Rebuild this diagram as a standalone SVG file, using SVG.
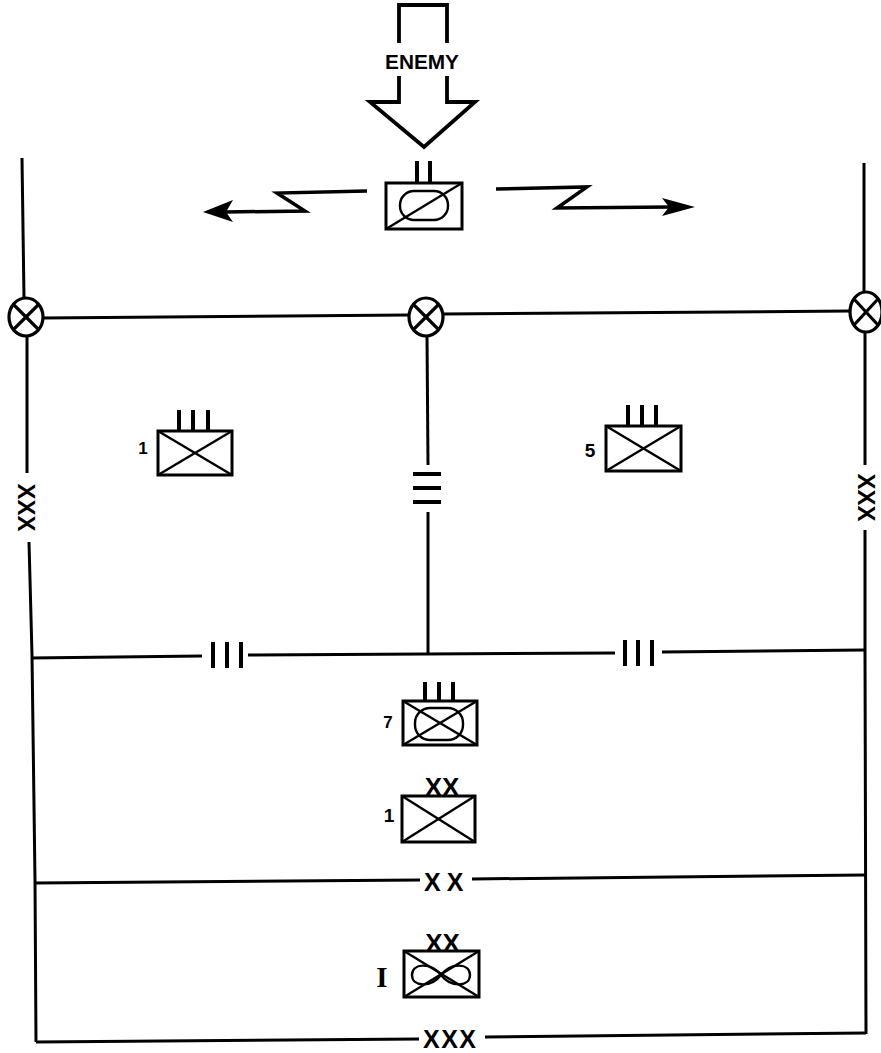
<svg xmlns="http://www.w3.org/2000/svg" width="881" height="1053" viewBox="0 0 881 1053">
<style>
.ln{fill:none;stroke:#000;stroke-width:3;stroke-linecap:butt}
.bx{fill:#fff;stroke:#000;stroke-width:3}
.dg{fill:none;stroke:#000;stroke-width:2.4}
.bar{stroke:#000;stroke-width:4}
.t{font-family:"Liberation Sans",Arial,Helvetica,sans-serif;font-weight:bold;fill:#000}
.ts{font-family:"Liberation Serif","Times New Roman",serif;font-weight:bold;fill:#000}
</style>
<defs>
<g id="cp">
<ellipse cx="0" cy="0" rx="17" ry="19" fill="#fff" stroke="#000" stroke-width="3.2"/>
<line x1="-12.5" y1="-12.5" x2="12.5" y2="12.5" stroke="#000" stroke-width="3.2"/>
<line x1="-12.5" y1="12.5" x2="12.5" y2="-12.5" stroke="#000" stroke-width="3.2"/>
</g>
</defs>
<rect width="881" height="1053" fill="#fff"/>

<g id="connectors">
<!-- left boundary -->
<polyline class="ln" points="22,158 24,298"/>
<polyline class="ln" points="27,336 27,473"/>
<polyline class="ln" points="29,542 32,655 35,880 36,1042"/>
<!-- right boundary -->
<polyline class="ln" points="864,163 864,292"/>
<polyline class="ln" points="865,332 865,465"/>
<polyline class="ln" points="865,530 865,650 866,1034"/>
<!-- top boundary line between contact points -->
<line class="ln" x1="43" y1="318" x2="409" y2="315"/>
<line class="ln" x1="443" y1="314" x2="850" y2="311"/>
<!-- middle regimental boundary -->
<line class="ln" x1="427" y1="336" x2="428" y2="465"/>
<line class="ln" x1="428" y1="512" x2="428" y2="655"/>
<line class="bar" x1="413" y1="474" x2="441" y2="474"/>
<line class="bar" x1="413" y1="488" x2="441" y2="488"/>
<line class="bar" x1="413" y1="502" x2="441" y2="502"/>
<!-- III line -->
<line class="ln" x1="31" y1="658" x2="202" y2="656"/>
<line class="ln" x1="248" y1="655" x2="615" y2="653"/>
<line class="ln" x1="662" y1="652" x2="864" y2="650"/>
<line class="bar" x1="213" y1="642" x2="213" y2="668" stroke-width="5"/>
<line class="bar" x1="227" y1="642" x2="227" y2="668" stroke-width="5"/>
<line class="bar" x1="241" y1="642" x2="241" y2="668" stroke-width="5"/>
<line class="bar" x1="625" y1="640" x2="625" y2="666" stroke-width="5"/>
<line class="bar" x1="638" y1="640" x2="638" y2="666" stroke-width="5"/>
<line class="bar" x1="652" y1="640" x2="652" y2="666" stroke-width="5"/>
<!-- XX line -->
<line class="ln" x1="35" y1="883" x2="420" y2="880"/>
<line class="ln" x1="472" y1="879" x2="865" y2="875"/>
<text class="t" x="424" y="891" font-size="25" letter-spacing="6">XX</text>
<!-- XXX line -->
<line class="ln" x1="36" y1="1042" x2="419" y2="1039"/>
<line class="ln" x1="485" y1="1037" x2="866" y2="1033"/>
<text class="t" x="423" y="1048" font-size="25" letter-spacing="1.5">XXX</text>
<!-- vertical XXX labels -->
<text class="t" font-size="24" text-anchor="middle" transform="translate(27,507.5) rotate(90)" y="8.6">XXX</text>
<text class="t" font-size="24" text-anchor="middle" transform="translate(867,497.5) rotate(90)" y="8.6">XXX</text>
</g>

<g id="contact-points">
<use href="#cp" x="26" y="317"/>
<use href="#cp" x="426" y="317"/>
<g transform="translate(866,312)">
<ellipse cx="0" cy="0" rx="16" ry="20" fill="#fff" stroke="#000" stroke-width="3.2"/>
<line x1="-12" y1="-13" x2="12" y2="13" stroke="#000" stroke-width="3.2"/>
<line x1="-12" y1="13" x2="12" y2="-13" stroke="#000" stroke-width="3.2"/>
</g>
</g>

<g id="enemy-arrow">
<polyline fill="none" stroke="#000" stroke-width="3.8" stroke-linejoin="miter" points="399,43 399,5 447,5 447,43"/>
<polyline fill="none" stroke="#000" stroke-width="3.8" stroke-linejoin="miter" points="399,76 399,102 370,102 424,147 475,102 447,102 447,76"/>
<text class="t" x="422" y="69" font-size="20" text-anchor="middle" textLength="74" lengthAdjust="spacingAndGlyphs">ENEMY</text>
</g>

<g id="cavalry-squadron">
<rect class="bx" x="386" y="183" width="76" height="46"/>
<rect x="400" y="191" width="48" height="29" rx="14" ry="14" fill="none" stroke="#000" stroke-width="2.4"/>
<line class="dg" x1="386" y1="229" x2="462" y2="183"/>
<line class="bar" x1="417" y1="161" x2="417" y2="183" stroke-width="3.5"/>
<line class="bar" x1="430" y1="161" x2="430" y2="183" stroke-width="3.5"/>
</g>

<g id="screen-arrows">
<polyline fill="none" stroke="#000" stroke-width="3.5" points="367,191 277,193 305,211 225,212"/>
<polygon points="203,212 233,200 226,212 233,222" fill="#000"/>
<polyline fill="none" stroke="#000" stroke-width="3.5" points="496,189 587,187 557,208 672,207"/>
<polygon points="695,207 662,198 669,207 662,216" fill="#000"/>
</g>

<g id="unit-1-regiment">
<rect class="bx" x="158" y="431" width="74" height="44"/>
<line class="dg" x1="158" y1="431" x2="232" y2="475"/>
<line class="dg" x1="158" y1="475" x2="232" y2="431"/>
<line class="bar" x1="179" y1="410" x2="179" y2="431"/>
<line class="bar" x1="193" y1="410" x2="193" y2="431"/>
<line class="bar" x1="208" y1="410" x2="208" y2="431"/>
<text class="t" x="143" y="454" font-size="17" text-anchor="middle">1</text>
</g>

<g id="unit-5-regiment">
<rect class="bx" x="606" y="426" width="75" height="45"/>
<line class="dg" x1="606" y1="426" x2="681" y2="471"/>
<line class="dg" x1="606" y1="471" x2="681" y2="426"/>
<line class="bar" x1="628" y1="405" x2="628" y2="426"/>
<line class="bar" x1="642" y1="405" x2="642" y2="426"/>
<line class="bar" x1="656" y1="405" x2="656" y2="426"/>
<text class="t" x="590" y="457" font-size="19" text-anchor="middle">5</text>
</g>

<g id="unit-7-regiment">
<rect class="bx" x="403" y="701" width="74" height="44"/>
<rect x="415" y="708" width="48" height="32" rx="15" ry="15" fill="none" stroke="#000" stroke-width="2.4"/>
<line class="dg" x1="403" y1="701" x2="477" y2="745"/>
<line class="dg" x1="403" y1="745" x2="477" y2="701"/>
<line class="bar" x1="425" y1="682" x2="425" y2="701"/>
<line class="bar" x1="439" y1="682" x2="439" y2="701"/>
<line class="bar" x1="453" y1="682" x2="453" y2="701"/>
<text class="t" x="388" y="728" font-size="17" text-anchor="middle">7</text>
</g>

<g id="unit-1-division">
<rect class="bx" x="402" y="796" width="73" height="46"/>
<line class="dg" x1="402" y1="796" x2="475" y2="842"/>
<line class="dg" x1="402" y1="842" x2="475" y2="796"/>
<text class="t" x="442" y="796" font-size="26" text-anchor="middle">XX</text>
<text class="t" x="389" y="822" font-size="19" text-anchor="middle">1</text>
</g>

<g id="unit-I-corps">
<rect class="bx" x="404" y="951" width="75" height="46"/>
<line class="dg" x1="404" y1="951" x2="479" y2="997"/>
<line class="dg" x1="404" y1="997" x2="479" y2="951"/>
<path d="M441,975 C431,962 412,963 412,975 C412,987 431,988 441,975 C451,962 470,963 470,975 C470,987 451,988 441,975 Z" fill="none" stroke="#000" stroke-width="2.4"/>
<text class="t" x="442.5" y="952" font-size="26" text-anchor="middle">XX</text>
<text class="ts" x="382" y="987" font-size="29" text-anchor="middle">I</text>
</g>
</svg>
